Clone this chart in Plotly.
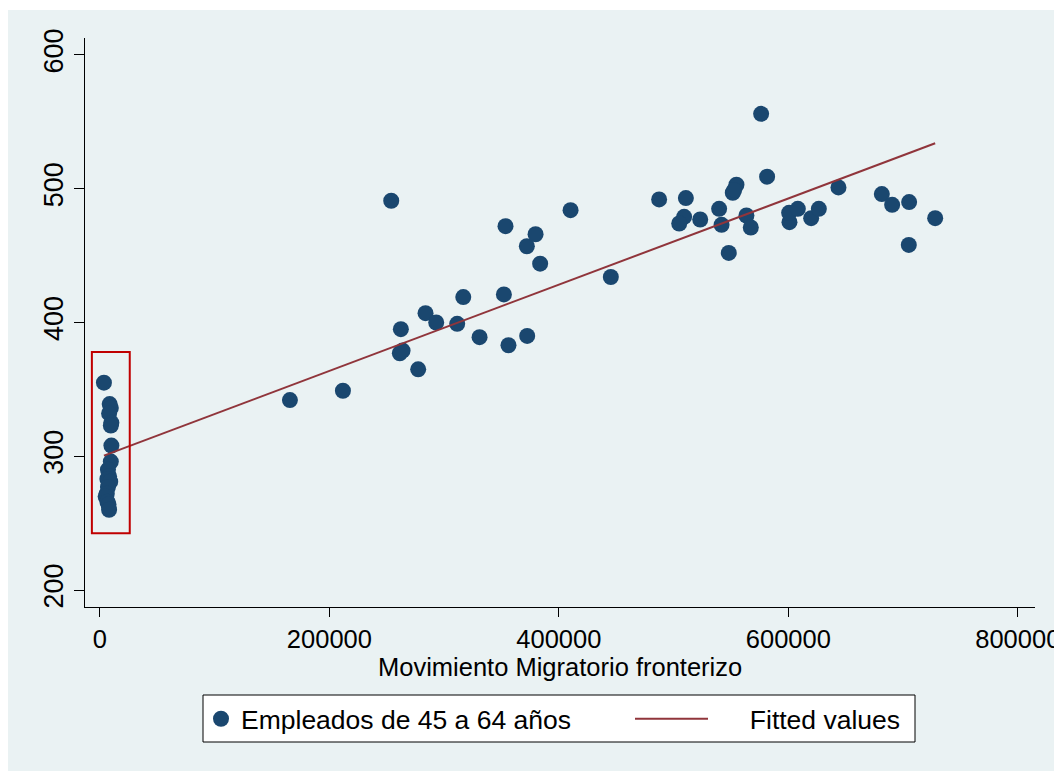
import plotly.graph_objects as go

# Movimiento Migratorio fronterizo (x) and Empleados de 45 a 64 años (y)
migr = [3500, 8500, 9500, 8000, 10000, 9500, 10000, 9500, 7000, 8000, 6500, 9000, 7000, 6000, 5000, 6500, 7500, 8000,
        165600, 211800, 253900, 262300, 261400, 263800, 277400, 283800, 293100, 311400, 316700, 330900,
        352100, 353500, 356100, 372400, 372100, 379700, 383700, 410200, 445300,
        487400, 510700, 509200, 504900, 523200, 539700, 541800, 548100, 551600, 554800, 552800,
        563500, 567300, 576300, 581500, 601000, 600700, 608300, 619900, 626600, 643700,
        681500, 690500, 705300, 705000, 728000]
empleados = [355, 339, 336, 332, 325, 323, 308, 296, 290, 285, 283, 281, 277, 272, 270, 266, 264, 260,
             342, 349, 491, 395, 377, 379, 365, 407, 400, 399, 419, 389,
             421, 472, 383, 390, 457, 466, 444, 484, 434,
             492, 493, 479, 474, 477, 485, 473, 452, 497, 503, 499,
             480, 471, 556, 509, 475, 482, 485, 478, 485, 501,
             496, 488, 490, 458, 478]

fit_x = [3500, 728000]
fit_y = [300.5, 534.0]

x_ticks = [0, 200000, 400000, 600000, 800000]
x_tick_labels = ["0", "200000", "400000", "600000", "800000"]
y_ticks = [200, 300, 400, 500, 600]

FONT = "Liberation Sans, Arial, sans-serif"
BG = "#EAF2F3"

# plot area in screen px: x 85..1035, y 38..607  (page body has an 8px margin)
PL, PR, PT, PB = 85, 1035, 38, 607
PW, PH = PR - PL, PB - PT


def px(x):
    return (x - PL) / PW


def py(y):
    return (PB - y) / PH


fig = go.Figure()
fig.add_trace(go.Scatter(
    x=migr, y=empleados, mode="markers", name="Empleados de 45 a 64 años",
    marker=dict(color="#1A476F", size=16, line=dict(width=0)),
    legend="legend",
))
fig.add_trace(go.Scatter(
    x=fit_x, y=fit_y, mode="lines", name="\u00a0\u00a0\u00a0\u00a0\u00a0Fitted values",
    line=dict(color="#90353B", width=2),
    legend="legend2",
))

# outer Stata-like background
fig.add_shape(type="rect", xref="paper", yref="paper",
              x0=px(8), x1=px(1062), y0=py(771), y1=py(10),
              fillcolor=BG, line=dict(width=0), layer="below")
# legend box
fig.add_shape(type="rect", xref="paper", yref="paper",
              x0=px(203), x1=px(915), y0=py(742), y1=py(695),
              fillcolor="white", line=dict(color="black", width=1), layer="below")
# red highlight rectangle
fig.add_shape(type="rect", xref="x", yref="y",
              x0=-7000, x1=26000, y0=242.5, y1=378,
              line=dict(color="#C00000", width=2), fillcolor="rgba(0,0,0,0)")

# x axis title
fig.add_annotation(text="Movimiento Migratorio fronterizo", xref="paper", yref="paper",
                   x=px(560), y=py(667), xanchor="center", yanchor="middle",
                   showarrow=False, font=dict(size=25.5))

fig.update_layout(
    width=1054, height=763,
    margin=dict(l=PL - 8, r=1062 - PR, t=PT - 8, b=771 - PB),
    paper_bgcolor="white", plot_bgcolor="white",
    font=dict(family=FONT, size=26, color="black"),
    showlegend=True,
    legend=dict(orientation="h", x=px(201), xanchor="left", y=py(719), yanchor="middle",
                bgcolor="rgba(0,0,0,0)", borderwidth=0, font=dict(size=26.5), itemwidth=30),
    legend2=dict(orientation="h", x=px(630), xanchor="left", y=py(719), yanchor="middle",
                 bgcolor="rgba(0,0,0,0)", borderwidth=0, font=dict(size=26.5), itemwidth=73),
)
fig.update_xaxes(
    range=[-13000, 815000], tickvals=x_ticks, ticktext=x_tick_labels,
    showgrid=False, zeroline=False, showline=True, linecolor="black", linewidth=1,
    ticks="outside", ticklen=9, tickcolor="black", tickfont=dict(size=25.5),
    ticklabeloverflow="allow", automargin=False,
)
fig.update_yaxes(
    range=[187.3, 612.7], tickvals=y_ticks, tickangle=-90,
    showgrid=True, gridcolor=BG, gridwidth=2, zeroline=False,
    showline=True, linecolor="black", linewidth=1,
    ticks="outside", ticklen=10, tickcolor="black", tickfont=dict(size=27),
    automargin=False,
)

fig.write_html("out.html")
